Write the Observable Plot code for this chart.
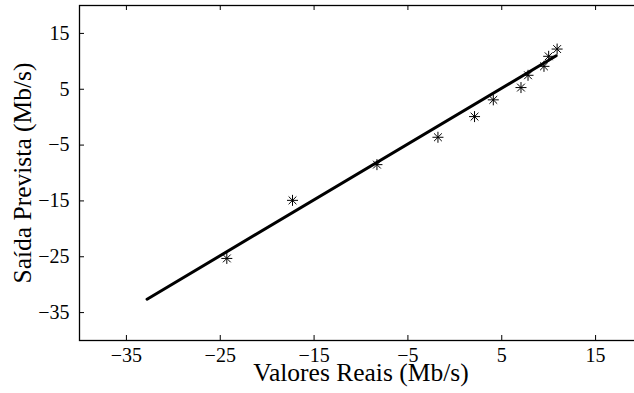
<!DOCTYPE html>
<html>
<head>
<meta charset="utf-8">
<script src="https://cdn.jsdelivr.net/npm/d3@7"></script>
<script src="https://cdn.jsdelivr.net/npm/@observablehq/plot@0.6"></script>
<style>
  html, body { margin: 0; padding: 0; background: #fff; overflow: hidden; }
  #chart { width: 634px; height: 393px; overflow: hidden; }
  #chart svg text { font-family: "Liberation Serif", "Times New Roman", serif; }
</style>
</head>
<body>
<div id="chart"></div>
<script>
// Observed (real) values and predicted values, Mb/s
const actualValues    = [-24.3, -17.3, -8.3, -1.8, 2.1, 4.1, 7.05, 7.8, 9.5, 10.0, 10.9];
const predictedValues = [-25.3, -14.9, -8.5, -3.6, 0.1, 3.1, 5.3, 7.5, 9.1, 10.9, 12.2];
// Fitted line end points
const fitX = [-32.8, 10.8];
const fitY = [-32.6, 11.0];
// Ticks
const xTicks = [-35, -25, -15, -5, 5, 15];
const yTicks = [15, 5, -5, -15, -25, -35];
const xDomain = [-40, 20];
const yDomain = [-40, 20];
const xLabel = "Valores Reais (Mb/s)";
const yLabel = "Saída Prevista (Mb/s)";

const points = actualValues.map((a, i) => ({actual: a, predicted: predictedValues[i]}));
const fitLine = fitX.map((x, i) => ({x, y: fitY[i]}));

const W = 634, H = 393;
const mL = 79, mR = -8, mT = 5, mB = 53;
const frameW = W - mL - mR, frameH = H - mT - mB;
const tickLen = 5;
const FONT = "Liberation Serif";

// 8-armed asterisk (MATLAB-style '*')
const asterisk8 = {
  draw(context, size) {
    const r = Math.sqrt(size / Math.PI);
    for (let k = 0; k < 4; k++) {
      const a = k * Math.PI / 4;
      const dx = r * Math.cos(a), dy = r * Math.sin(a);
      context.moveTo(-dx, -dy);
      context.lineTo(dx, dy);
    }
  }
};

const chart = Plot.plot({
  width: W,
  height: H,
  marginLeft: mL,
  marginRight: mR,
  marginTop: mT,
  marginBottom: mB,
  style: {fontFamily: FONT, fontSize: "20px", background: "#fff", color: "#000"},
  x: {domain: xDomain},
  y: {domain: yDomain},
  marks: [
    Plot.frame({stroke: "black", strokeWidth: 1.3}),
    Plot.tickX(xTicks, {x: d => d, insetTop: frameH - tickLen, stroke: "black", strokeWidth: 1}),
    Plot.tickX(xTicks, {x: d => d, insetBottom: frameH - tickLen, stroke: "black", strokeWidth: 1}),
    Plot.tickY(yTicks, {y: d => d, insetRight: frameW - tickLen, stroke: "black", strokeWidth: 1}),
    Plot.axisX(xTicks, {tickSize: 0, tickPadding: 7, label: null, fontSize: 20, fontFamily: FONT}),
    Plot.axisY(yTicks, {tickSize: 0, tickPadding: 10, label: null, fontSize: 20, fontFamily: FONT}),
    Plot.line(fitLine, {x: "x", y: "y", stroke: "black", strokeWidth: 3}),
    Plot.dot(points, {x: "actual", y: "predicted", symbol: asterisk8, r: 5.5, stroke: "black", strokeWidth: 1, fill: "none"}),
    Plot.text([xLabel], {frameAnchor: "bottom", textAnchor: "middle", lineAnchor: "middle", dy: 32, fontSize: 25.5, fontFamily: FONT, fill: "black"}),
    Plot.text([yLabel], {frameAnchor: "left", rotate: -90, textAnchor: "middle", lineAnchor: "middle", dx: -57, fontSize: 25.5, fontFamily: FONT, fill: "black"})
  ]
});
document.getElementById("chart").appendChild(chart);
</script>
</body>
</html>
